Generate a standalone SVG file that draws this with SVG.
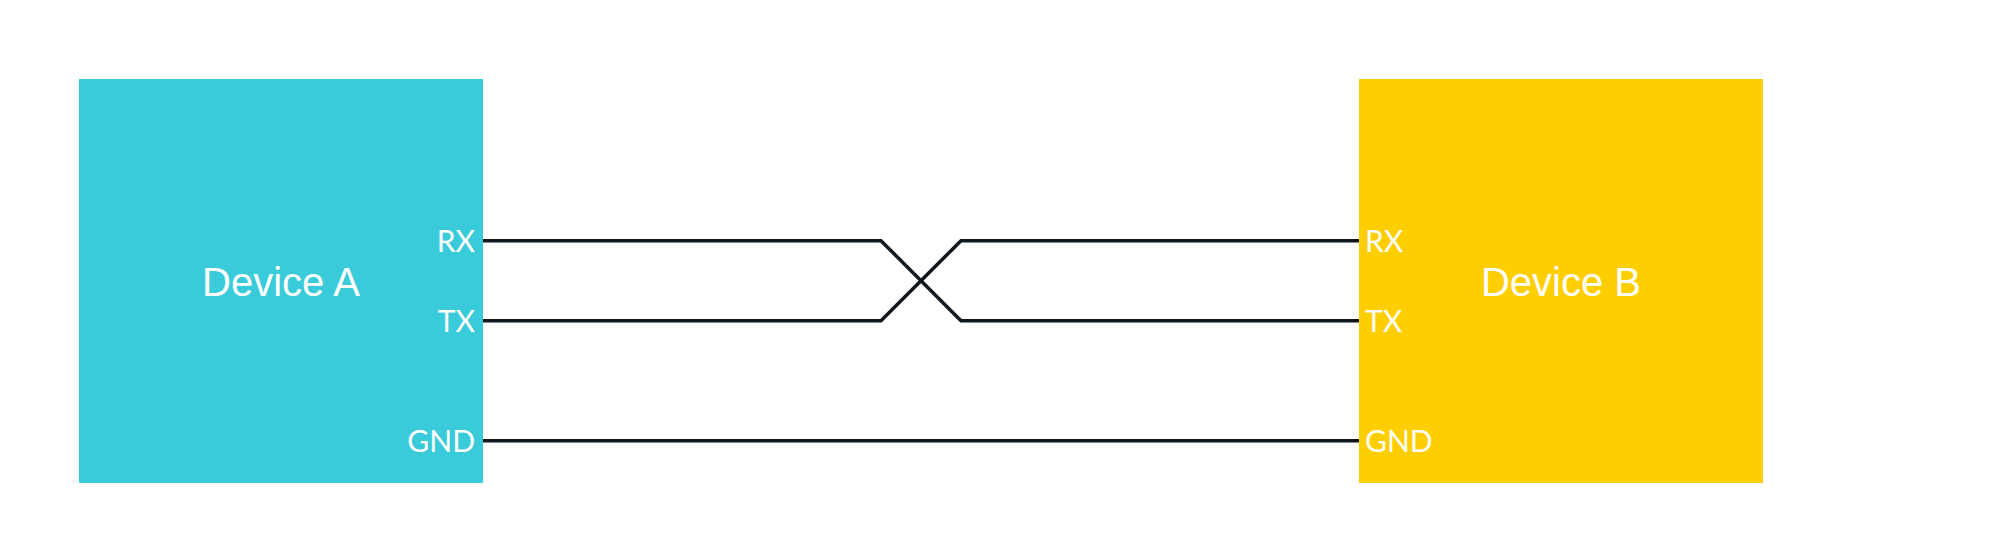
<svg xmlns="http://www.w3.org/2000/svg" width="2002" height="560" viewBox="0 0 2002 560">
<style>
.title{font-family:"Liberation Sans",Arial,sans-serif;font-size:40px;fill:#ffffff}
.port{font-family:Lato,"Noto Sans",sans-serif;font-size:30px;font-weight:400;fill:#ffffff}
.wire{fill:none;stroke:#0f161c;stroke-width:3.5}
</style>
<rect width="2002" height="560" fill="#ffffff"/>
<g id="deviceA">
<rect x="79" y="79" width="404" height="404" fill="#3acbda"/>
<text class="title" x="281" y="296" text-anchor="middle">Device A</text>
<text class="port" x="475" y="251.7" text-anchor="end">RX</text>
<text class="port" x="475" y="331.7" text-anchor="end">TX</text>
<text class="port" x="475" y="451.7" text-anchor="end">GND</text>
</g>
<g id="deviceB">
<rect x="1359" y="79" width="404" height="404" fill="#ffce00"/>
<text class="title" x="1561" y="296" text-anchor="middle">Device B</text>
<text class="port" x="1365" y="251.7">RX</text>
<text class="port" x="1365" y="331.7">TX</text>
<text class="port" x="1365" y="451.7">GND</text>
</g>
<g id="connectors">
<path class="wire" d="M483 240.7 H881 L961 320.7 H1359"/>
<path class="wire" d="M483 320.7 H881 L961 240.7 H1359"/>
<path class="wire" d="M483 440.7 H1359"/>
</g>
</svg>
